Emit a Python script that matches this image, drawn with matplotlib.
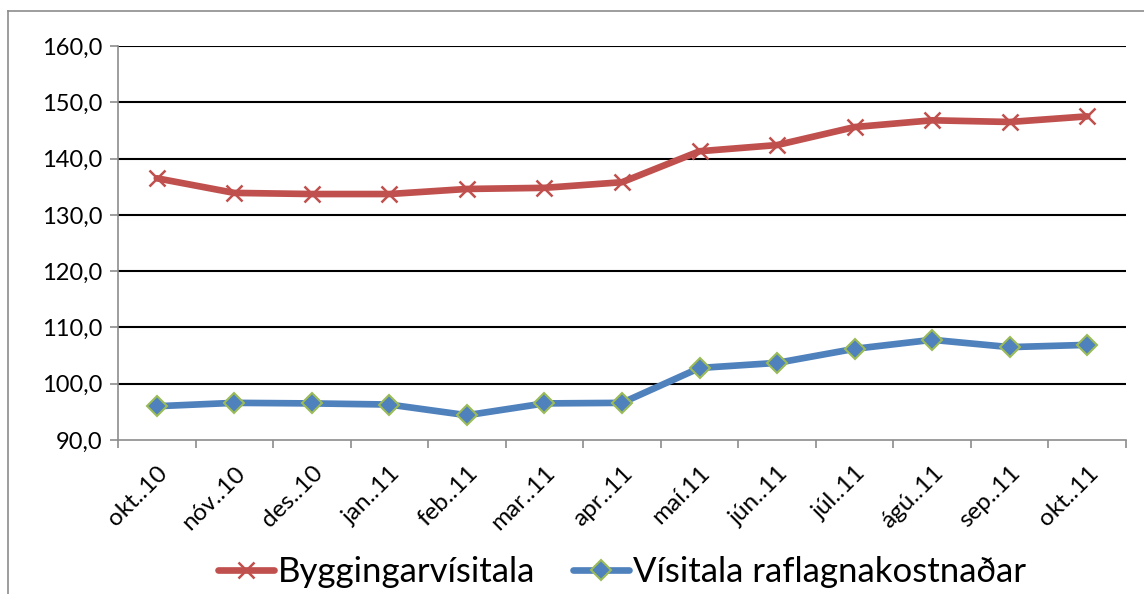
import matplotlib
matplotlib.use("Agg")
import matplotlib.pyplot as plt
from matplotlib.lines import Line2D

categories = ["okt..10", "nóv..10", "des..10", "jan..11", "feb..11", "mar..11", "apr..11",
              "maí.11", "jún..11", "júl..11", "ágú..11", "sep..11", "okt..11"]
byggingarvisitala = [136.5, 133.9, 133.7, 133.7, 134.6, 134.8, 135.8,
                     141.3, 142.4, 145.6, 146.8, 146.5, 147.5]
raflagnir = [96.0, 96.6, 96.5, 96.3, 94.4, 96.5, 96.6,
             102.8, 103.7, 106.2, 107.8, 106.5, 106.9]
yticks = [90, 100, 110, 120, 130, 140, 150, 160]

plt.rcParams['font.family'] = ['Lato', 'DejaVu Sans']

fig = plt.figure(figsize=(11.44, 5.94), dpi=100)
ax = fig.add_axes([118/1144, 1-440/594, (1126-118)/1144, (440-46)/594])

# outer border (left and top)
fig.add_artist(Line2D([8/1144, 8/1144], [0, 1-11/594], color='#8c8c8c', lw=1.2, transform=fig.transFigure))
fig.add_artist(Line2D([8/1144, 1], [1-11/594, 1-11/594], color='#8c8c8c', lw=1.2, transform=fig.transFigure))

x = list(range(len(categories)))
red = '#C0504D'
blue = '#4F81BD'
ax.plot(x, byggingarvisitala, color=red, lw=4.8, marker='x', ms=12, mew=1.8,
        mec=red, label='Byggingarvísitala', solid_capstyle='round', zorder=3)
ax.plot(x, raflagnir, color=blue, lw=4.8, marker='D', ms=10.5, mew=1.5,
        mfc=blue, mec='#9BBB59', label='Vísitala raflagnakostnaðar', solid_capstyle='round', zorder=3)

ax.set_xlim(-0.5, len(categories) - 0.5)
ax.set_ylim(90, 160)
ax.set_yticks(yticks)
ax.set_yticklabels([f"{v:.1f}".replace('.', ',') for v in yticks], fontsize=17)
for v in yticks[1:]:
    ax.axhline(v, color='black', lw=1.5, zorder=1)

ax.set_xticks([i - 0.5 for i in range(len(categories) + 1)])
ax.set_xticklabels([])
ax.set_xticks(x, minor=True)
ax.set_xticklabels(categories, minor=True, rotation=45, ha='right', va='top',
                   rotation_mode='anchor', fontsize=17.5)
ax.tick_params(axis='x', which='minor', length=0, pad=16)
ax.tick_params(axis='x', which='major', length=6, color='#8c8c8c', width=1.2)
ax.tick_params(axis='y', length=6, color='#8c8c8c', width=1.2, pad=5)

for s in ['top', 'right']:
    ax.spines[s].set_visible(False)
ax.spines['left'].set_color('#8c8c8c')
ax.spines['bottom'].set_color('#8c8c8c')
ax.spines['left'].set_linewidth(1.2)
ax.spines['bottom'].set_linewidth(1.2)

ax.legend(loc='center', bbox_to_anchor=(0.5, -0.335), ncol=2, frameon=False,
          fontsize=25, handlelength=1.6, columnspacing=1.1, handletextpad=0.12)

fig.savefig('out.png', dpi=100)
